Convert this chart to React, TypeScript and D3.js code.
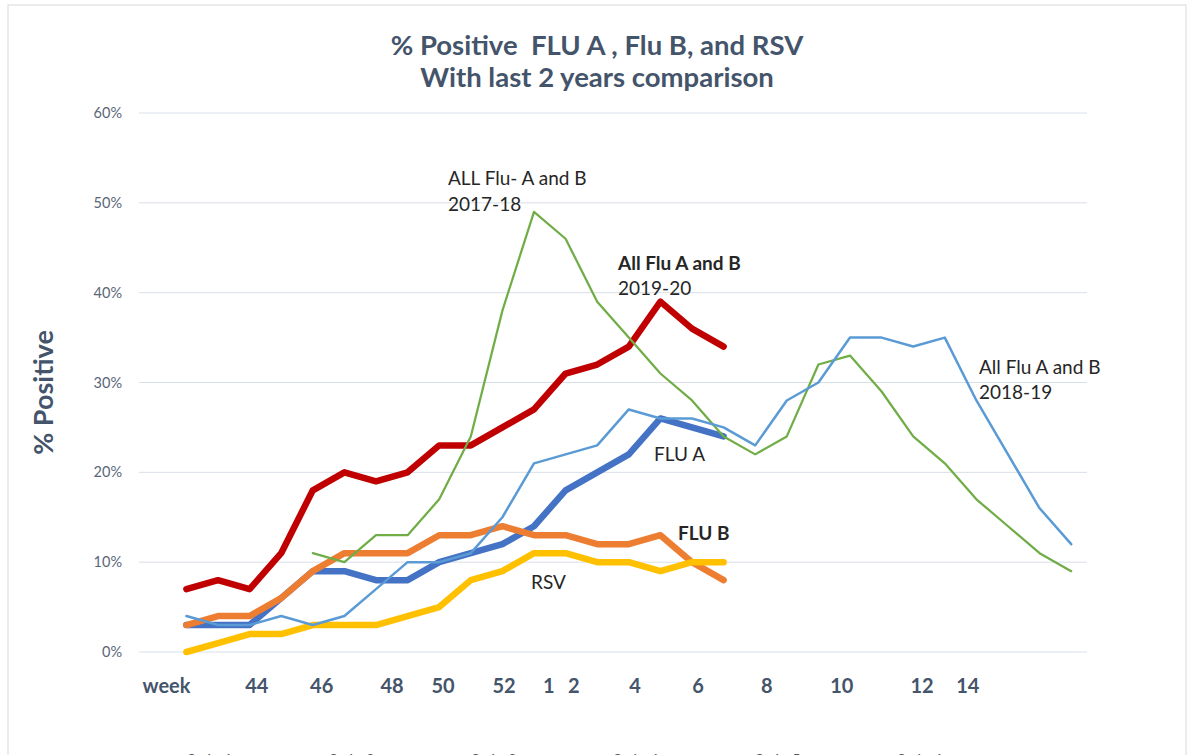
import React from 'react'
import * as d3 from 'd3'

// categories: first slot is the "week" label, then weeks 42..52 and 1..18
const weeks = ['week', '42', '43', '44', '45', '46', '47', '48', '49', '50', '51', '52',
  '1', '2', '3', '4', '5', '6', '7', '8', '9', '10', '11', '12', '13', '14', '15', '16', '17', '18']

const fluAB1920 = [null, 7, 8, 7, 11, 18, 20, 19, 20, 23, 23, 25, 27, 31, 32, 34, 39, 36, 34]
const fluA = [null, 3, 3, 3, 6, 9, 9, 8, 8, 10, 11, 12, 14, 18, 20, 22, 26, 25, 24]
const fluB = [null, 3, 4, 4, 6, 9, 11, 11, 11, 13, 13, 14, 13, 13, 12, 12, 13, 10, 8]
const rsv = [null, 0, 1, 2, 2, 3, 3, 3, 4, 5, 8, 9, 11, 11, 10, 10, 9, 10, 10]
const fluAB1718 = [null, null, null, null, null, 11, 10, 13, 13, 17, 24, 38, 49, 46, 39, 35, 31, 28,
  24, 22, 24, 32, 33, 29, 24, 21, 17, 14, 11, 9]
const fluAB1819 = [null, 4, 3, 3, 4, 3, 4, 7, 10, 10, 11, 15, 21, 22, 23, 27, 26, 26, 25, 23, 28, 30,
  35, 35, 34, 35, 28, 22, 16, 12]

// the typed week labels under the plot (label, position in category units)
const tickText = ['week', '44', '46', '48', '50', '52', '1', '2', '4', '6', '8', '10', '12', '14']
const tickAt = [0.37, 3.23, 5.28, 7.51, 9.12, 11.05, 12.47, 13.26, 15.2, 17.19, 19.37, 21.74, 24.28, 25.73]

const yTicks = [0, 10, 20, 30, 40, 50, 60]
const legendNames = ['Series1', 'Series2', 'Series3', 'Series4', 'Series5', 'Series6']

const W = 1192
const H = 755
const left = 139
const right = 1087
const top = 113
const bottom = 652

const font = 'Lato, "Open Sans", sans-serif'
const slate = '#44546A'

const App = () => {
  const x = d3.scaleBand<string>().domain(weeks).range([left, right]).padding(0)
  const y = d3.scaleLinear().domain([0, 60]).range([bottom, top])
  const xi = d3.scaleLinear().domain([0, weeks.length]).range([left, right])
  const cx = (i: number) => (x(weeks[i]) as number) + x.bandwidth() / 2

  const line = d3.line<number | null>()
    .defined(d => d !== null)
    .x((d, i) => cx(i))
    .y(d => y(d as number))

  const series = [
    { values: fluA, color: '#4472C4', width: 6.5 },
    { values: fluB, color: '#ED7D31', width: 6.5 },
    { values: rsv, color: '#FFC000', width: 6.5 },
    { values: fluAB1920, color: '#C00000', width: 6.5 },
    { values: fluAB1718, color: '#70AD47', width: 2.25 },
    { values: fluAB1819, color: '#5B9BD5', width: 2.5 },
  ]

  return (
    <svg width={W} height={H} style={{ position: 'absolute', left: 0, top: 0, background: 'white' }}
      fontFamily={font}>
      <rect x={8} y={5} width={1178} height={760} fill="white" stroke="#D9D9D9" />

      <text x={597} y={55} textAnchor="middle" fontSize={27.5} fontWeight="bold" fill={slate}
        style={{ whiteSpace: 'pre' }}>% Positive  FLU A , Flu B, and RSV</text>
      <text x={597} y={87} textAnchor="middle" fontSize={27.5} fontWeight="bold" fill={slate}>
        With last 2 years comparison</text>

      {yTicks.map(t => (
        <g key={t}>
          <line x1={left} x2={right} y1={y(t)} y2={y(t)} stroke="#D9DFE8" strokeWidth={1} />
          <text x={122} y={y(t) + 5} textAnchor="end" fontSize={14.5} fill="#5A6678">{t}%</text>
        </g>
      ))}

      <text transform={`translate(53, ${(top + bottom) / 2 + 10}) rotate(-90)`} textAnchor="middle"
        fontSize={27} fontWeight="bold" fill={slate}>% Positive</text>

      {tickText.map((t, i) => (
        <text key={t + i} x={xi(tickAt[i] + 0.5)} y={693} textAnchor="middle" fontSize={20}
          fontWeight="bold" fill={slate}>{t}</text>
      ))}

      {series.map((s, i) => (
        <path key={i} d={line(s.values) as string} fill="none" stroke={s.color}
          strokeWidth={s.width} strokeLinecap="round" strokeLinejoin="round" />
      ))}

      <g fontSize={19} fill="#262626">
        <text x={448} y={185}>ALL Flu- A and B</text>
        <text x={448} y={211}>2017-18</text>
        <text x={618} y={270} fontWeight="bold">All Flu A and B</text>
        <text x={618} y={295}>2019-20</text>
        <text x={979} y={374}>All Flu A and B</text>
        <text x={979} y={399}>2018-19</text>
        <text x={654} y={461}>FLU A</text>
        <text x={678} y={540} fontWeight="bold">FLU B</text>
        <text x={531} y={589}>RSV</text>
      </g>

      {legendNames.map((n, i) => (
        <text key={n} x={210 + i * 142} y={764} textAnchor="middle" fontSize={14} fill="#595959">{n}</text>
      ))}
    </svg>
  )
}

export default App
